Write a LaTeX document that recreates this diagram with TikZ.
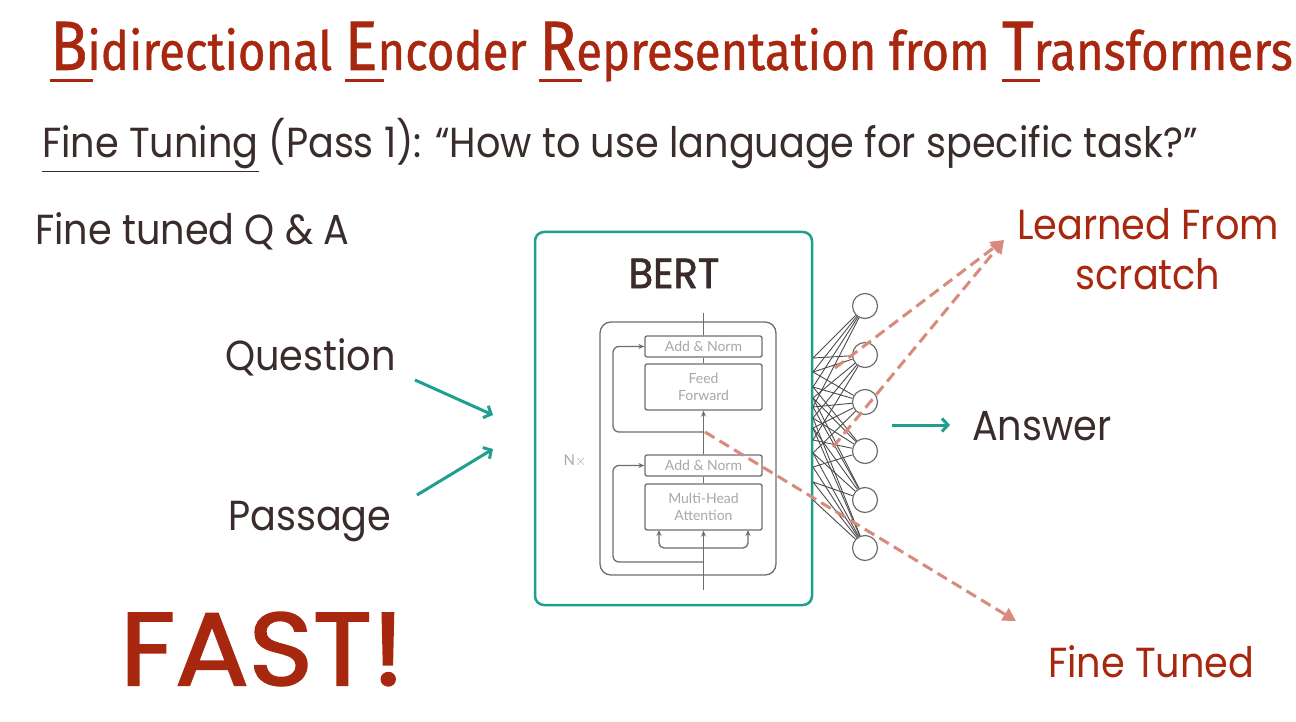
\documentclass[tikz,border=0pt]{standalone}
\usepackage{fontspec}
\setmainfont{Poppins}[FakeStretch=0.91]
\newfontfamily\heavyfont{Poppins}[FakeStretch=0.95, FakeBold=1.6]
\newfontfamily\fastfont{Poppins}[FakeStretch=1.06, FakeBold=2]
\newfontfamily\titlefont{Fira Sans}[FakeStretch=0.875, FakeBold=0.8]
\newfontfamily\smallfont{Lato}
\usetikzlibrary{arrows.meta}
\definecolor{titlered}{HTML}{A8280F}
\definecolor{ink}{HTML}{3B2C2C}
\definecolor{bertteal}{HTML}{1FA08E}
\definecolor{dashred}{HTML}{D88A7C}
\definecolor{boxgray}{HTML}{6E6E6E}
\definecolor{labelgray}{HTML}{A8A8A8}

% big initial letter with its own underline
\newsavebox\capbox
\newcommand\capU[1]{\sbox\capbox{\fontsize{70}{70}\selectfont #1}%
  \rlap{\color{titlered}\rule[-12pt]{\dimexpr\wd\capbox+6pt\relax}{3pt}}\usebox\capbox}

\tikzset{
  body/.style={font=\fontsize{42}{46}\selectfont, text=ink, inner sep=0pt},
  redtext/.style={font=\fontsize{42}{50}\selectfont, text=titlered, inner sep=0pt, align=center},
  blk/.style={draw=boxgray, line width=1.3pt, rounded corners=2pt, minimum width=117pt,
    inner sep=0pt, font=\smallfont\fontsize{14}{17}\selectfont, text=labelgray, align=center},
  flow/.style={draw=boxgray, line width=1.3pt},
  flowarrow/.style={flow, -{Stealth[length=6pt,width=5pt]}},
  neuron/.style={circle, draw=boxgray, line width=1.2pt, minimum size=25pt, inner sep=0pt, fill=white},
  wire/.style={draw=black!70, line width=0.9pt},
  tealarrow/.style={draw=bertteal, line width=3pt, -{Straight Barb[length=6pt,width=13pt,line width=3pt]}},
  dasharrow/.style={draw=dashred, line width=3pt, dash pattern=on 11pt off 6pt,
    -{Triangle[length=13pt,width=14pt]}},
}

\begin{document}
\begin{tikzpicture}[x=1pt,y=-1pt]
\useasboundingbox[fill=white] (0,0) rectangle (1296,722);

% heading
\node[anchor=base west, inner sep=0pt, text=titlered] (title) at (50,70)
  {\titlefont\fontsize{54}{60}\selectfont \capU{B}idirectional \capU{E}ncoder \capU{R}epresentation from \capU{T}ransformers};

\node[body, anchor=base west] (sub) at (42,158)
  {\underline{Fine Tuning} (Pass 1): “How to use language for specific task?”};

\node[body, anchor=base west] (task) at (35,245) {Fine tuned Q \& A};
\node[body, anchor=base west] (question) at (225,370) {Question};
\node[body, anchor=base west] (passage) at (228,530) {Passage};

\node[font=\fastfont\fontsize{103}{110}\selectfont, text=titlered, anchor=base west, inner sep=0pt] (fast) at (120,685) {FAST!};

% BERT container
\draw[bertteal, line width=2.5pt, rounded corners=9pt] (535,232) rectangle (812,605);
\node[font=\heavyfont\fontsize{42}{46}\selectfont, text=ink, inner sep=0pt, anchor=base] (bert) at (674,288) {BERT};

% encoder layer
\node[draw=boxgray, line width=1.3pt, rounded corners=11pt, minimum width=176pt, minimum height=253pt, inner sep=0pt] (layer) at (688,448.5) {};
\node[blk, minimum height=21pt] (an2) at (703.5,346.5) {Add \& Norm};
\node[blk, minimum height=46pt] (ff) at (703.5,387) {Feed\\Forward};
\node[blk, minimum height=21pt] (an1) at (703.5,465.5) {Add \& Norm};
\node[blk, minimum height=46pt] (mha) at (703.5,507) {Multi-Head\\Attention};
\node[font=\smallfont\fontsize{15}{17}\selectfont, text=labelgray, inner sep=0pt] (nx) at (575,461) {N$\times$};

\coordinate (inBottom) at (703.5,590);
\coordinate (outTop) at (703.5,313);
\draw[flowarrow] (inBottom) -- (mha.south);
\draw[flowarrow, rounded corners=5pt] (703.5,548) -- (659,548) -- (659,530);
\draw[flowarrow, rounded corners=5pt] (703.5,548) -- (748,548) -- (748,530);
\draw[flowarrow, rounded corners=6pt] (703.5,562) -- (613,562) -- (613,465.5) -- (an1.west);
\draw[flow] (mha.north) -- (an1.south);
\draw[flowarrow] (an1.north) -- (ff.south);
\draw[flowarrow, rounded corners=6pt] (703.5,432) -- (613,432) -- (613,346.5) -- (an2.west);
\draw[flow] (ff.north) -- (an2.south);
\draw[flow] (an2.north) -- (outTop);

% output head
\foreach \i/\y in {1/306,2/355,3/402,4/451,5/500,6/548}
  \node[neuron] (c\i) at (865,\y) {};

\foreach \i/\y in {1/358,2/372,3/387,4/398,5/407,6/418,7/428,8/440,9/453,10/467,11/482,12/500}
  \coordinate (s\i) at (813,\y);

\foreach \s/\c in {1/1,1/2,2/1,2/2,2/3,3/1,3/3,3/4,4/2,4/4,4/5,5/1,5/3,5/5,
                   6/2,6/4,6/6,7/3,7/5,7/6,8/2,8/4,9/3,9/5,9/6,10/4,10/6,11/5,11/6,12/6}
  \draw[wire] (s\s) -- (c\c);

% inputs and output
\coordinate (qStart) at (415,380);
\coordinate (qEnd) at (493,415);
\coordinate (pStart) at (417,495);
\coordinate (pEnd) at (493,449);
\draw[tealarrow] (qStart) -- (qEnd);
\draw[tealarrow] (pStart) -- (pEnd);

\coordinate (aStart) at (892,425);
\coordinate (aEnd) at (950,425);
\draw[tealarrow] (aStart) -- (aEnd);
\node[body, anchor=base west] (answer) at (972,440) {Answer};

% which parameters are new and which are tuned
\node[redtext, anchor=north] (scratch) at (1148,208) {Learned From\\scratch};
\node[redtext, anchor=base west] (tuned) at (1048,677) {Fine Tuned};

\coordinate (lfTip) at (1004,240);
\coordinate (d1) at (835,368);
\coordinate (d2) at (833,447);
\coordinate (ftStart) at (705,432);
\coordinate (ftTip) at (1016,621);
\draw[dasharrow] (d1) -- (lfTip);
\draw[dasharrow] (d2) -- (lfTip);
\draw[dasharrow] (ftStart) -- (ftTip);
\end{tikzpicture}
\end{document}
